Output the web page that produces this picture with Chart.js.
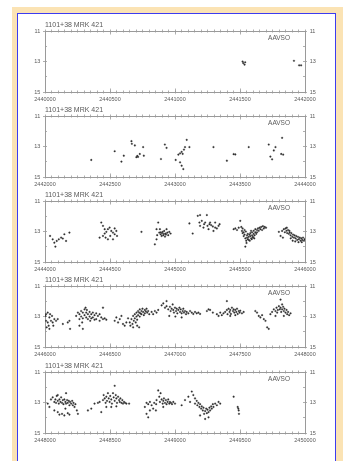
<!DOCTYPE html>
<html>
<head>
<meta charset="utf-8">
<script src="https://cdn.jsdelivr.net/npm/chart.js@4"></script>
<style>
  html, body { margin: 0; padding: 0; }
  body { width: 343px; height: 461px; overflow: hidden; position: relative; background: #fff; }
  #frame { position: absolute; left: 12px; top: 7px; right: 0; bottom: 0; background: #fbe3b4; }
  #sheet { position: absolute; left: 17px; top: 12.5px; width: 317px; height: 470px; background: #fff; border: 1.5px solid #3c3cf0; }
  canvas.panel { position: absolute; left: 18px; }
</style>
</head>
<body>
<div id="frame"></div>
<div id="sheet"></div>
<canvas class="panel" id="p0" width="318" height="91" style="top:15px"></canvas>
<canvas class="panel" id="p1" width="318" height="91" style="top:100px"></canvas>
<canvas class="panel" id="p2" width="318" height="91" style="top:185px"></canvas>
<canvas class="panel" id="p3" width="318" height="91" style="top:270px"></canvas>
<canvas class="panel" id="p4" width="318" height="91" style="top:356px"></canvas>
<script>
// Mkn 421 visual estimates: [Julian Date, magnitude]
const starTitle = "1101+38 MRK 421";
const observerTag = "AAVSO";

const panelStarts = [2440000, 2442000, 2444000, 2446000, 2448000];
const panelSpan = 2000;
const jdLabelStep = 500;
const magTicks = [11, 13, 15];

const obs1 = [
  [2441520, 13.00], [2441525, 13.10], [2441535, 13.20], [2441540, 13.05],
  [2441915, 12.95], [2441955, 13.25], [2441970, 13.25]
];

const obs2 = [
  [2442356, 13.88], [2442536, 13.31], [2442606, 13.60], [2442588, 13.99],
  [2442665, 12.65], [2442668, 12.82], [2442691, 12.93], [2442703, 13.70],
  [2442710, 13.62], [2442716, 13.68], [2442729, 13.49], [2442760, 13.60],
  [2442755, 13.04], [2442892, 13.82], [2442922, 12.87], [2442935, 13.09],
  [2443005, 13.88], [2443026, 13.53], [2443039, 13.45], [2443051, 13.35],
  [2443059, 13.48], [2443069, 13.20], [2443077, 13.04], [2443090, 12.56],
  [2443111, 13.04], [2443039, 14.04], [2443051, 14.26], [2443064, 14.48],
  [2443296, 13.04], [2443399, 13.93], [2443451, 13.50], [2443464, 13.52],
  [2443567, 13.04], [2443721, 12.87], [2443734, 13.66], [2443760, 13.26],
  [2443773, 13.04], [2443817, 13.49], [2443832, 13.53], [2443824, 12.43],
  [2443747, 13.84]
];

const obs3 = [
  [2444039, 13.29], [2444059, 13.51], [2444072, 13.73], [2444080, 13.99],
  [2444090, 13.62], [2444106, 13.51], [2444124, 13.40], [2444137, 13.46],
  [2444149, 13.18], [2444162, 13.62], [2444188, 13.07],
  [2444433, 12.41], [2444446, 12.63], [2444459, 12.85], [2444472, 13.02],
  [2444484, 12.85], [2444497, 12.74], [2444510, 12.96], [2444523, 13.07],
  [2444536, 13.18], [2444549, 12.96], [2444446, 13.29], [2444466, 13.40],
  [2444484, 13.51], [2444502, 13.29], [2444523, 13.51], [2444420, 13.40],
  [2444459, 13.13], [2444536, 12.80], [2444554, 13.29],
  [2444742, 13.02],
  [2444871, 12.41], [2444858, 12.85], [2444879, 13.07], [2444889, 13.18],
  [2444905, 13.02], [2444917, 12.96], [2444928, 13.13], [2444941, 13.07],
  [2444956, 13.02], [2444966, 13.13], [2444897, 13.29], [2444910, 13.24],
  [2444923, 13.33], [2444858, 13.51], [2444845, 13.84], [2444884, 12.85],
  [2444935, 12.85], [2444948, 13.24], [2444863, 13.24], [2444900, 13.10],
  [2444915, 13.15], [2444930, 13.20], [2444890, 13.05],
  [2445111, 12.47], [2445136, 13.13],
  [2445175, 11.97], [2445188, 12.41], [2445206, 12.30], [2445224, 12.52],
  [2445232, 12.41], [2445245, 11.92], [2445250, 12.63], [2445265, 12.52],
  [2445278, 12.58], [2445291, 12.67], [2445309, 12.74], [2445322, 12.80],
  [2445335, 12.63], [2445309, 12.41], [2445193, 12.63], [2445219, 12.74],
  [2445258, 12.85], [2445296, 12.96], [2445343, 12.52], [2445270, 12.41],
  [2445193, 11.92],
  [2445451, 12.85], [2445464, 12.80], [2445477, 12.90], [2445490, 12.75],
  [2445502, 12.30], [2445510, 12.70], [2445515, 12.96], [2445520, 13.10],
  [2445528, 13.05], [2445528, 13.30], [2445535, 13.20], [2445541, 13.45],
  [2445541, 13.99], [2445548, 13.60], [2445554, 13.25], [2445554, 13.40],
  [2445560, 13.15], [2445567, 13.35], [2445567, 13.55], [2445573, 13.20],
  [2445580, 13.30], [2445580, 13.10], [2445586, 13.45], [2445593, 13.25],
  [2445593, 13.05], [2445599, 13.35], [2445605, 13.15], [2445605, 12.95],
  [2445612, 13.25], [2445618, 13.05], [2445618, 12.85], [2445625, 13.15],
  [2445631, 12.90], [2445631, 13.05], [2445638, 12.80], [2445644, 12.95],
  [2445650, 12.75], [2445657, 12.85], [2445663, 12.70], [2445670, 12.90],
  [2445676, 12.65], [2445683, 12.80], [2445690, 12.70], [2445545, 13.00],
  [2445560, 13.50], [2445575, 13.60], [2445590, 13.50], [2445600, 13.40],
  [2445535, 12.90], [2445520, 12.80], [2445700, 12.75], [2445585, 12.95],
  [2445610, 13.45], [2445550, 13.75],
  [2445799, 13.02], [2445812, 13.29], [2445824, 12.96], [2445837, 12.85],
  [2445845, 13.05], [2445850, 12.80], [2445858, 12.95], [2445863, 13.10],
  [2445870, 12.90], [2445876, 13.15], [2445882, 13.05], [2445889, 13.25],
  [2445895, 13.10], [2445902, 13.35], [2445908, 13.20], [2445915, 13.40],
  [2445920, 13.25], [2445928, 13.45], [2445933, 13.30], [2445940, 13.55],
  [2445946, 13.35], [2445953, 13.50], [2445960, 13.40], [2445966, 13.60],
  [2445972, 13.45], [2445979, 13.55], [2445985, 13.40], [2445992, 13.60],
  [2445998, 13.50], [2445905, 13.60], [2445925, 13.65], [2445950, 13.70],
  [2445975, 13.70], [2445890, 13.45], [2445880, 12.95], [2445860, 12.75],
  [2445830, 13.40]
];

const obs4 = [
  [2446008, 12.85], [2446021, 12.74], [2446034, 13.06], [2446008, 13.28],
  [2446021, 13.39], [2446028, 13.60], [2446046, 13.28], [2446054, 12.96],
  [2446059, 13.39], [2446072, 13.17], [2446085, 13.28], [2446098, 13.17],
  [2446034, 13.81], [2446013, 13.71], [2446003, 12.96], [2446039, 12.85],
  [2446064, 13.60],
  [2446175, 13.39], [2446193, 13.81], [2446188, 13.28], [2446137, 13.49],
  [2446240, 12.96], [2446253, 12.74], [2446265, 12.85], [2446265, 13.17],
  [2446278, 12.64], [2446278, 13.00], [2446291, 12.74], [2446291, 13.12],
  [2446304, 12.53], [2446304, 12.91], [2446312, 12.42], [2446317, 12.74],
  [2446317, 13.06], [2446330, 12.85], [2446330, 13.17], [2446343, 12.70],
  [2446343, 13.00], [2446356, 12.85], [2446356, 13.12], [2446368, 12.74],
  [2446368, 13.06], [2446381, 12.91], [2446381, 13.21], [2446394, 12.79],
  [2446394, 13.17], [2446407, 12.96], [2446420, 12.85], [2446420, 13.28],
  [2446433, 13.06], [2446446, 12.42], [2446446, 13.17], [2446459, 13.12],
  [2446472, 13.21], [2446265, 13.60], [2446291, 13.81], [2446322, 12.57],
  [2446348, 13.28], [2446286, 13.39],
  [2446536, 13.28], [2446549, 13.06], [2446562, 13.39], [2446575, 13.17],
  [2446588, 12.96], [2446600, 13.49], [2446613, 13.60], [2446626, 13.39],
  [2446639, 13.12],
  [2446652, 13.39], [2446657, 13.60], [2446665, 13.17], [2446673, 13.49],
  [2446678, 12.96], [2446683, 13.28], [2446691, 12.85], [2446691, 13.12],
  [2446698, 13.39], [2446704, 12.74], [2446704, 13.00], [2446709, 13.21],
  [2446716, 12.64], [2446716, 12.91], [2446724, 12.74], [2446729, 12.53],
  [2446729, 13.00], [2446734, 12.79], [2446742, 12.64], [2446742, 12.85],
  [2446750, 12.49], [2446755, 12.70], [2446760, 12.91], [2446768, 12.57],
  [2446768, 12.79], [2446776, 12.66], [2446781, 12.49], [2446786, 12.74],
  [2446794, 12.64], [2446802, 12.85], [2446709, 13.60], [2446724, 13.71],
  [2446678, 13.71],
  [2446820, 12.70], [2446832, 12.85], [2446845, 12.64], [2446858, 12.74],
  [2446871, 12.57],
  [2446897, 12.27], [2446910, 12.14], [2446923, 12.42], [2446935, 12.32],
  [2446948, 12.53], [2446961, 12.36], [2446966, 12.64], [2446974, 12.49],
  [2446982, 12.21], [2446987, 12.57], [2446992, 12.74], [2447000, 12.42],
  [2447008, 12.64], [2447013, 12.49], [2447018, 12.79], [2447026, 12.57],
  [2447034, 12.42], [2447039, 12.70], [2447044, 12.53], [2447051, 12.79],
  [2447059, 12.64], [2447064, 12.49], [2447069, 12.74], [2447077, 12.64],
  [2447085, 12.85], [2447090, 12.70], [2447103, 12.79], [2447116, 12.64],
  [2447129, 12.74], [2447141, 12.83], [2447154, 12.70], [2447167, 12.79],
  [2447180, 12.74], [2447193, 12.83], [2446956, 12.96], [2447003, 13.00],
  [2447051, 13.06], [2446935, 11.99],
  [2447245, 12.64], [2447258, 12.53], [2447270, 12.57], [2447291, 12.74],
  [2447322, 12.85], [2447335, 12.96], [2447348, 12.74], [2447360, 12.91],
  [2447373, 12.79], [2447386, 12.70], [2447399, 11.99], [2447399, 12.57],
  [2447404, 12.85], [2447412, 12.49], [2447420, 12.70], [2447425, 12.57],
  [2447430, 12.83], [2447438, 12.42], [2447446, 12.64], [2447451, 12.53],
  [2447456, 12.74], [2447464, 12.57], [2447472, 12.70], [2447477, 12.49],
  [2447482, 12.83], [2447490, 12.64], [2447497, 12.74], [2447502, 12.62],
  [2447515, 12.79], [2447528, 12.70], [2447425, 12.96], [2447464, 12.91],
  [2447618, 12.64], [2447631, 12.74], [2447644, 12.96], [2447657, 13.06],
  [2447670, 12.91], [2447683, 13.17], [2447696, 13.28], [2447709, 13.71],
  [2447721, 13.81],
  [2447734, 12.85], [2447747, 12.70], [2447760, 12.53], [2447773, 12.64],
  [2447781, 12.42], [2447786, 12.74], [2447791, 12.57], [2447799, 12.32],
  [2447806, 12.53], [2447812, 11.89], [2447812, 12.42], [2447817, 12.70],
  [2447824, 12.21], [2447824, 12.53], [2447832, 12.36], [2447837, 12.64],
  [2447842, 12.49], [2447850, 12.74], [2447858, 12.57], [2447863, 12.85],
  [2447870, 12.70], [2447878, 12.91], [2447889, 12.79], [2447837, 12.96],
  [2447773, 12.96]
];

const obs5 = [
  [2448021, 13.07], [2448034, 13.29], [2448046, 12.80], [2448059, 12.66],
  [2448072, 12.96], [2448080, 12.80], [2448085, 13.02], [2448090, 12.57],
  [2448098, 12.89], [2448098, 12.51], [2448106, 13.07], [2448111, 12.80],
  [2448119, 12.96], [2448124, 12.66], [2448131, 13.02], [2448137, 12.84],
  [2448142, 13.11], [2448149, 12.80], [2448157, 12.96], [2448162, 12.39],
  [2448162, 13.07], [2448170, 12.84], [2448175, 13.02], [2448183, 12.89],
  [2448188, 13.18], [2448193, 12.96], [2448201, 13.07], [2448209, 12.89],
  [2448214, 13.18], [2448219, 13.02], [2448227, 13.29], [2448234, 13.11],
  [2448245, 13.52], [2448253, 13.74], [2448098, 13.63], [2448111, 13.79],
  [2448131, 13.74], [2448149, 13.85], [2448175, 13.70], [2448188, 13.79],
  [2448072, 13.52], [2448157, 13.40],
  [2448330, 13.52], [2448356, 13.40], [2448381, 13.07], [2448407, 13.02],
  [2448420, 12.96], [2448433, 13.63], [2448446, 12.84], [2448451, 12.51],
  [2448459, 12.73], [2448466, 13.02], [2448472, 12.62], [2448477, 12.89],
  [2448484, 12.39], [2448490, 12.73], [2448497, 12.96], [2448502, 12.57],
  [2448510, 12.80], [2448515, 13.07], [2448523, 12.39], [2448528, 12.66],
  [2448536, 11.90], [2448536, 12.89], [2448544, 12.51], [2448549, 12.73],
  [2448554, 13.02], [2448562, 12.62], [2448570, 12.84], [2448575, 12.96],
  [2448580, 12.73], [2448588, 13.02], [2448595, 12.84], [2448600, 13.07],
  [2448608, 12.96], [2448616, 13.02], [2448626, 13.07], [2448647, 13.07],
  [2448472, 13.29], [2448510, 13.29], [2448549, 13.25],
  [2448768, 13.29], [2448781, 13.74], [2448794, 13.97], [2448807, 13.52],
  [2448781, 13.02], [2448794, 13.11], [2448807, 12.96], [2448820, 13.18],
  [2448832, 13.40], [2448840, 13.02], [2448855, 13.11], [2448858, 12.84],
  [2448871, 12.21], [2448879, 12.62], [2448884, 12.96], [2448889, 12.39],
  [2448897, 12.80], [2448905, 13.07], [2448910, 12.89], [2448915, 12.73],
  [2448923, 13.02], [2448930, 12.84], [2448935, 13.11], [2448943, 12.96],
  [2448948, 12.80], [2448956, 13.07], [2448961, 12.96], [2448969, 13.02],
  [2448977, 13.11], [2448987, 12.96], [2449000, 13.07], [2448853, 13.52],
  [2448910, 13.29],
  [2449051, 13.18], [2449077, 12.84], [2449103, 12.62], [2449129, 12.28],
  [2449141, 12.51], [2449154, 12.73], [2449167, 12.89], [2449172, 13.18],
  [2449180, 13.02], [2449188, 13.29], [2449193, 13.11], [2449201, 13.40],
  [2449206, 13.25], [2449214, 13.52], [2449219, 13.34], [2449224, 13.74],
  [2449232, 14.08], [2449232, 13.56], [2449240, 13.40], [2449245, 13.70],
  [2449250, 13.47], [2449258, 13.63], [2449265, 13.34], [2449270, 13.52],
  [2449278, 13.25], [2449283, 13.40], [2449291, 13.11], [2449296, 13.29],
  [2449309, 13.07], [2449322, 13.18], [2449335, 12.96], [2449348, 13.07],
  [2449116, 12.96], [2449154, 13.07], [2449193, 13.85], [2449258, 13.97],
  [2449451, 12.62], [2449482, 13.29], [2449490, 13.52], [2449492, 13.74],
  [2449487, 13.40]
];

const panelObs = [obs1, obs2, obs3, obs4, obs5];

const axisGrey = '#9a9a9a';
const textGrey = '#5a5a5a';
const dotColor = '#303030';
const fontFamily = '"Liberation Sans", Arial, sans-serif';

// "AAVSO" tag inside the upper right of each plot area
const tagPlugin = {
  id: 'observerTag',
  afterDatasetsDraw(chart) {
    const { ctx, chartArea } = chart;
    ctx.save();
    ctx.font = '6.5px ' + fontFamily;
    ctx.fillStyle = textGrey;
    ctx.textAlign = 'right';
    ctx.textBaseline = 'middle';
    ctx.fillText(observerTag, chartArea.right - 15, chartArea.top + 7);
    ctx.restore();
  }
};

function fixedHeight(h) { return (scale) => { scale.height = h; }; }
function fixedWidth(w) { return (scale) => { scale.width = w; }; }

function tickAxis(position, min, max, step, length, weight, size) {
  const horizontal = position === 'top' || position === 'bottom';
  return {
    type: 'linear', position, min, max, weight,
    reverse: !horizontal,
    border: { display: false },
    grid: { drawOnChartArea: false, tickLength: length, color: axisGrey, tickWidth: 0.8 },
    ticks: { display: false, stepSize: step, autoSkip: false, maxTicksLimit: 200 },
    afterFit: horizontal ? fixedHeight(size) : fixedWidth(size)
  };
}

function buildScales(start) {
  const end = start + panelSpan;
  const labelFont = { family: fontFamily, size: 5.5 };
  const magFont = { family: fontFamily, size: 5.5 };
  return {
    x: {
      type: 'linear', position: 'bottom', min: start, max: end, weight: 2,
      border: { display: true, color: axisGrey, width: 1 },
      grid: { drawOnChartArea: false, tickLength: 1.5, color: axisGrey, tickWidth: 0.8 },
      ticks: {
        stepSize: 50, autoSkip: false, maxTicksLimit: 200, maxRotation: 0, minRotation: 0,
        padding: 2.2, color: textGrey, font: labelFont,
        callback: (v) => ((v - start) % jdLabelStep === 0 ? String(v) : '')
      },
      afterFit: fixedHeight(14)
    },
    xMinorIn: tickAxis('bottom', start, end, 50, -1.5, 1, 0),
    xMajorIn: tickAxis('bottom', start, end, jdLabelStep, -3.5, 0, 0),
    xTop: Object.assign(tickAxis('top', start, end, 50, 1.5, 2, 1.6),
      { border: { display: true, color: axisGrey, width: 1 } }),
    xTopMinorIn: tickAxis('top', start, end, 50, -1.5, 1, 0),
    xTopMajorIn: tickAxis('top', start, end, jdLabelStep, -3.5, 0, 0),
    y: {
      type: 'linear', position: 'left', reverse: true, min: 11, max: 15, weight: 1,
      border: { display: true, color: axisGrey, width: 1 },
      grid: { drawOnChartArea: false, tickLength: 2, color: axisGrey, tickWidth: 0.8 },
      ticks: {
        stepSize: 2, padding: 2.7, color: textGrey, font: magFont,
        callback: (v) => (magTicks.includes(v) ? String(v) : '')
      },
      afterFit: fixedWidth(27)
    },
    yMinorIn: tickAxis('left', 11, 15, 1, -2, 0, 0),
    yRight: {
      type: 'linear', position: 'right', reverse: true, min: 11, max: 15, weight: 1,
      border: { display: true, color: axisGrey, width: 1 },
      grid: { drawOnChartArea: false, tickLength: 2, color: axisGrey, tickWidth: 0.8 },
      ticks: {
        stepSize: 2, padding: 2.7, color: textGrey, font: magFont,
        callback: (v) => (magTicks.includes(v) ? String(v) : '')
      },
      afterFit: fixedWidth(31)
    },
    yRightMinorIn: tickAxis('right', 11, 15, 1, -2, 0, 0)
  };
}

panelObs.forEach((obs, i) => {
  const start = panelStarts[i];
  new Chart(document.getElementById('p' + i), {
    type: 'scatter',
    data: {
      datasets: [{
        data: obs.map(([jd, mag]) => ({ x: jd, y: mag })),
        xAxisID: 'x', yAxisID: 'y',
        pointStyle: 'circle',
        pointRadius: 0.85,
        pointBorderWidth: 0.3,
        backgroundColor: dotColor,
        borderColor: dotColor,
        showLine: false
      }]
    },
    options: {
      responsive: false,
      animation: false,
      events: [],
      devicePixelRatio: 1,
      layout: { padding: 0 },
      plugins: {
        legend: { display: false },
        tooltip: { enabled: false },
        title: {
          display: true, text: starTitle, align: 'start', fullSize: false,
          color: textGrey, font: { family: fontFamily, size: 7, weight: 'normal', lineHeight: 1.2 },
          padding: { top: 6, bottom: 0 }
        }
      },
      scales: buildScales(start)
    },
    plugins: [tagPlugin]
  });
});
</script>
</body>
</html>
